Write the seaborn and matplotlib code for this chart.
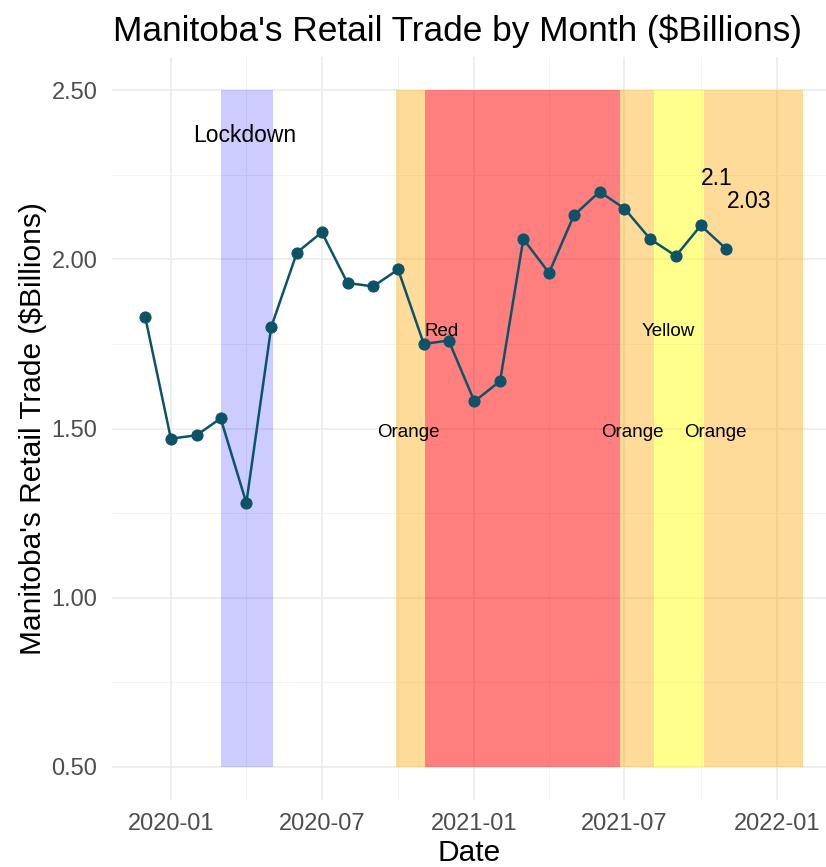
import pandas as pd
import matplotlib
matplotlib.use("Agg")
import matplotlib.pyplot as plt
import matplotlib.dates as mdates
from matplotlib.ticker import MultipleLocator, FormatStrFormatter
import seaborn as sns

# monthly retail trade, $ billions
months = pd.date_range("2019-12-01", "2021-11-01", freq="MS")
retail = [1.83, 1.47, 1.48, 1.53, 1.28, 1.80, 2.02, 2.08, 1.93, 1.92, 1.97, 1.75,
          1.76, 1.58, 1.64, 2.06, 1.96, 2.13, 2.20, 2.15, 2.06, 2.01, 2.10, 2.03]

# restriction periods
zone_start = ["2020-03-01", "2020-09-28", "2020-11-02", "2021-06-25", "2021-08-05", "2021-10-05"]
zone_end = ["2020-05-03", "2020-11-02", "2021-06-25", "2021-08-05", "2021-10-05", "2022-02-01"]
zone_color = ["blue", "orange", "red", "orange", "yellow", "orange"]
zone_alpha = [0.2, 0.4, 0.5, 0.4, 0.45, 0.4]

zone_text = ["Lockdown", "Orange", "Red", "Orange", "Yellow", "Orange"]
text_x = ["2020-03-30", "2020-10-13", "2020-11-23", "2021-07-11", "2021-08-23", "2021-10-19"]
text_y = [2.365, 1.488, 1.788, 1.488, 1.788, 1.488]
text_size = [16.5, 13.5, 13.5, 13.5, 13.5, 13.5]

df = pd.DataFrame({"Date": months, "Retail": retail})

sns.set_theme(style="white")
plt.rcParams["font.family"] = ["Liberation Sans", "DejaVu Sans"]

fig = plt.figure(figsize=(8.26, 8.67), dpi=100)
ax = fig.add_axes([112 / 826, 1 - 800 / 867, 714 / 826, 743 / 867])

for s, e, c, a in zip(zone_start, zone_end, zone_color, zone_alpha):
    ax.fill_between([pd.Timestamp(s), pd.Timestamp(e)], 0.5, 2.5,
                    color=c, alpha=a, linewidth=0, zorder=1)

sns.lineplot(data=df, x="Date", y="Retail", ax=ax, color="#0D5368",
             linewidth=1.8, marker="o", markersize=8,
             markeredgecolor="#0D5368", zorder=3)

for t, x, y, s in zip(zone_text, text_x, text_y, text_size):
    ax.text(pd.Timestamp(x), y, t, ha="center", va="center",
            fontsize=s, color="black", zorder=4)

# value labels for the last two months
for d, v in zip(df.Date.tail(2), df.Retail.tail(2)):
    ax.annotate(f"{v:g}", xy=(d, v), xytext=(0, 34), textcoords="offset points",
                ha="left", va="center", fontsize=16.5, color="black", zorder=4)

ax.set_xlim(pd.Timestamp("2019-10-22"), pd.Timestamp("2022-03-01"))
ax.set_ylim(0.402, 2.598)

ax.xaxis.set_major_locator(mdates.MonthLocator(bymonth=[1, 7]))
ax.xaxis.set_minor_locator(mdates.MonthLocator(bymonth=[4, 10]))
ax.xaxis.set_major_formatter(mdates.DateFormatter("%Y-%m"))
ax.yaxis.set_major_locator(MultipleLocator(0.5))
ax.yaxis.set_minor_locator(MultipleLocator(0.25))
ax.yaxis.set_major_formatter(FormatStrFormatter("%.2f"))

ax.set_axisbelow(True)
ax.grid(which="major", color="#EBEBEB", linewidth=1.2, zorder=0)
ax.grid(which="minor", color="#F2F2F2", linewidth=0.7, zorder=0)
for sp in ax.spines.values():
    sp.set_visible(False)
ax.tick_params(which="both", length=0)
ax.tick_params(axis="y", labelsize=17, labelcolor="#4D4D4D", pad=10.5)
ax.tick_params(axis="x", labelsize=17, labelcolor="#4D4D4D", pad=9.5)

ax.set_xlabel("Date", fontsize=21.5, color="black")
ax.set_ylabel("Manitoba's Retail Trade ($Billions)", fontsize=21.5, color="black")
ax.xaxis.set_label_coords(0.5, -0.053)
ax.yaxis.set_label_coords(-0.091, 0.5)

fig.text(113 / 826, 1 - 41 / 867, "Manitoba's Retail Trade by Month ($Billions)",
         ha="left", va="baseline", fontsize=25.4, color="black")

plt.savefig("out.png", dpi=100)
